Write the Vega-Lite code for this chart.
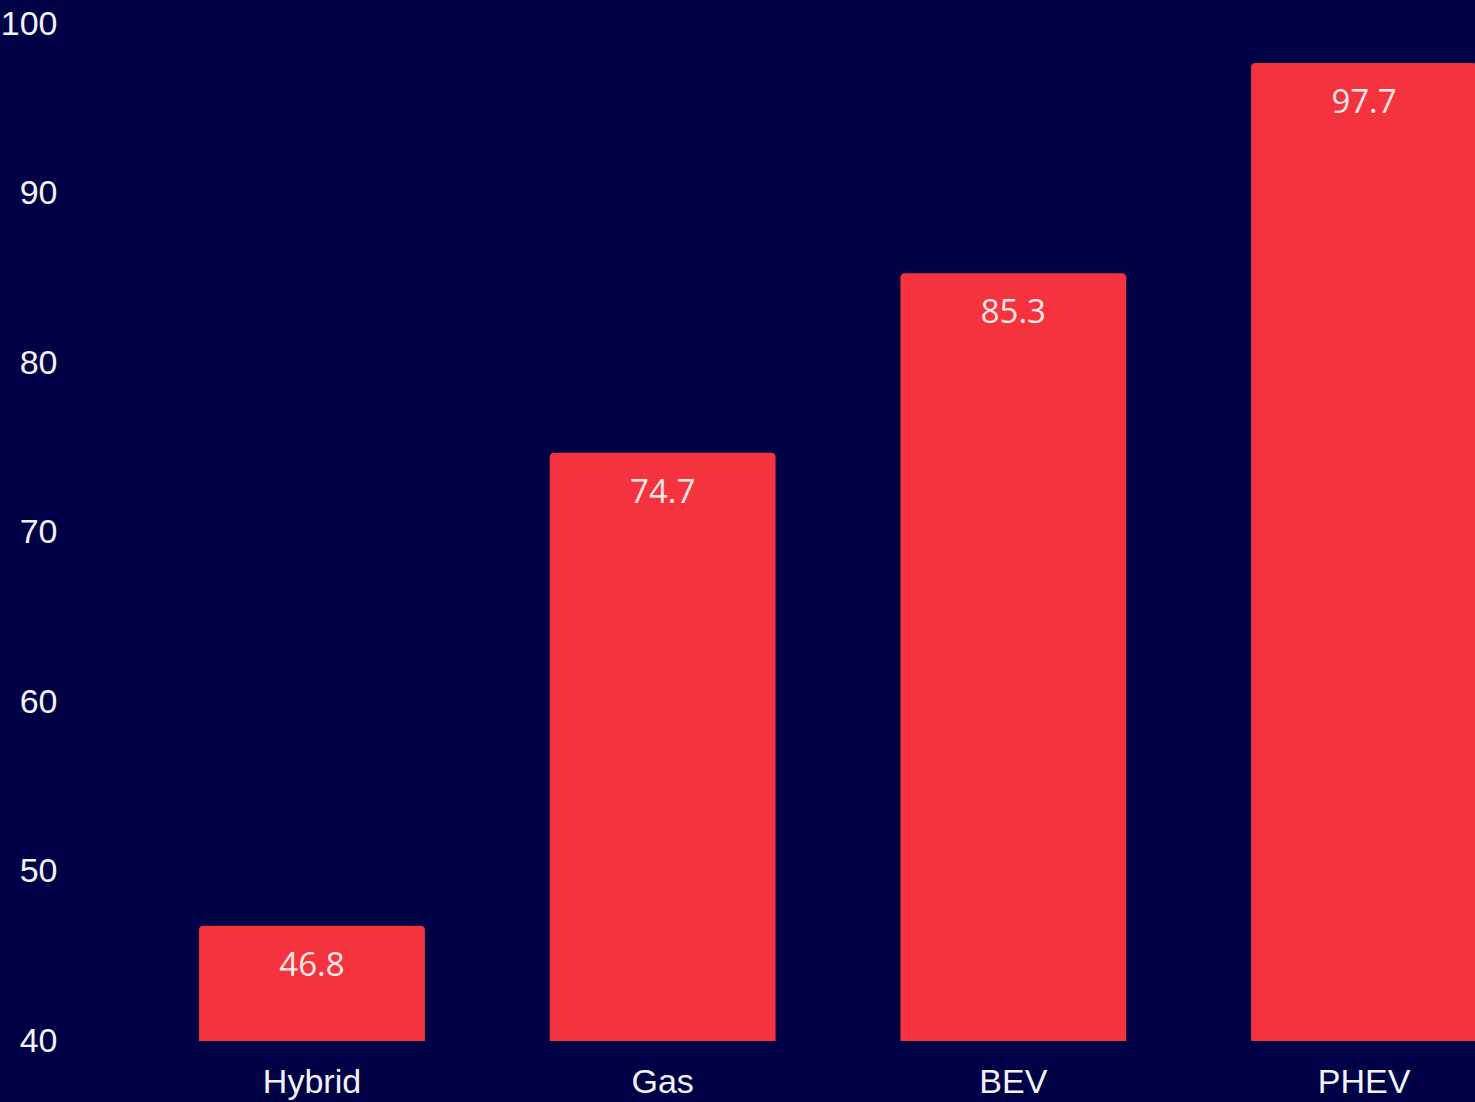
{
  "$schema": "https://vega.github.io/schema/vega-lite/v6.json",
  "autosize": {"type": "none"},
  "width": 1405,
  "height": 1017,
  "padding": {"left": 70, "top": 24, "right": 0, "bottom": 61},
  "background": "#000046",
  "config": {"view": {"stroke": null}, "font": "Liberation Sans"},
  "data": {"values": [
    {"type": "Hybrid", "value": 46.8},
    {"type": "Gas", "value": 74.7},
    {"type": "BEV", "value": 85.3},
    {"type": "PHEV", "value": 97.7}
  ]},
  "encoding": {
    "x": {"field": "type", "type": "nominal", "sort": null,
      "scale": {"range": [0, 1536], "paddingInner": 0.356, "paddingOuter": 0.368},
      "axis": {"title": null, "labelAngle": 0, "ticks": false, "domain": false, "labelFontSize": 34, "labelColor": "#f2f2f7", "labelPadding": 24}},
    "y": {"field": "value", "type": "quantitative",
      "scale": {"domain": [40, 100], "nice": false, "zero": false},
      "axis": {"title": null, "values": [40, 50, 60, 70, 80, 90, 100], "ticks": false, "domain": false, "grid": false, "labelFontSize": 34, "labelColor": "#f2f2f7", "labelPadding": 13}}
  },
  "layer": [
    {"mark": {"type": "bar", "color": "#f5333f", "cornerRadiusTopLeft": 4, "cornerRadiusTopRight": 4},
      "encoding": {"y2": {"datum": 40}}},
    {"mark": {"type": "text", "baseline": "middle", "dy": 40, "fontSize": 33, "color": "#fbe9ea", "font": "Open Sans"},
      "encoding": {"text": {"field": "value", "type": "quantitative", "format": ".1f"}}}
  ]
}
